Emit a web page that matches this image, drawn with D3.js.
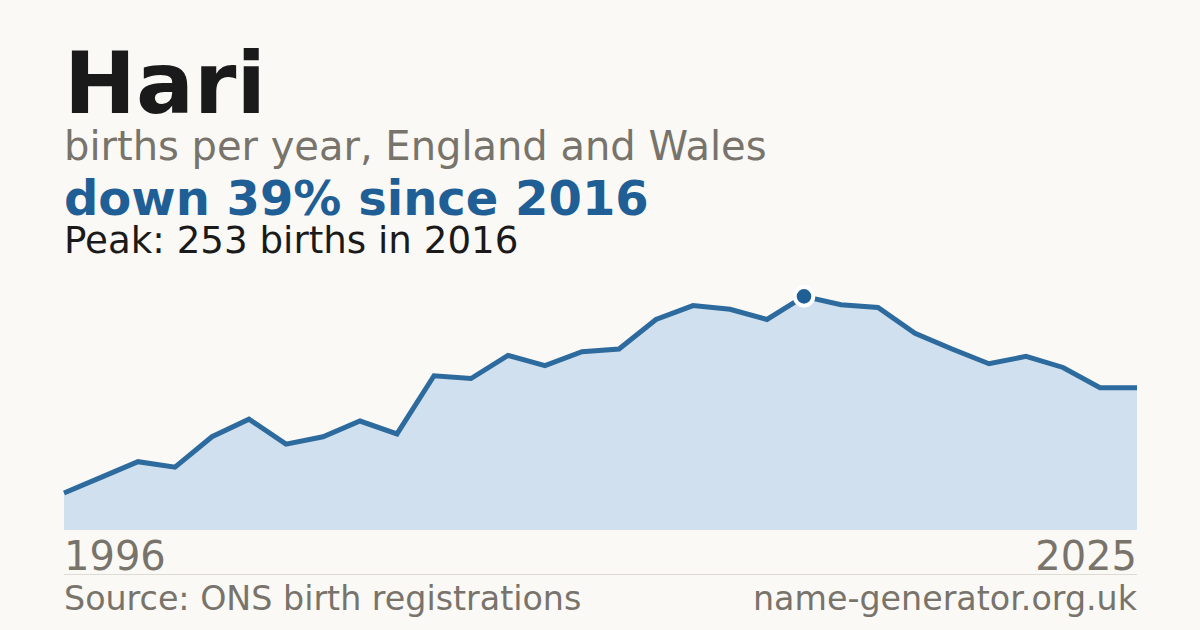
<!doctype html>
<meta charset="utf-8">
<title>Hari</title>
<style>
    html, body {
        margin: 0;
        background-color: #faf9f5;
    }

    svg {
        display: block;
        font-family: "DejaVu Sans", Verdana, sans-serif;
    }
</style>
<svg width=1200 height=630 viewBox="0 0 1200 630"></svg>
<script src=https://d3js.org/d3.v7.min.js></script>
<script>
    // births per year
    var years = [1996, 1997, 1998, 1999, 2000, 2001, 2002, 2003, 2004, 2005,
        2006, 2007, 2008, 2009, 2010, 2011, 2012, 2013, 2014, 2015,
        2016, 2017, 2018, 2019, 2020, 2021, 2022, 2023, 2024, 2025];
    var births = [40, 57, 74, 68, 101, 120, 93, 101, 118, 104,
        167, 164, 189, 178, 193, 196, 228, 243, 239, 228,
        253, 244, 241, 213, 196, 180, 188, 176, 154, 154];

    var title = 'Hari';
    var subtitle = 'births per year, England and Wales';
    var sourceText = 'Source: ONS birth registrations';
    var siteText = 'name-generator.org.uk';

    var svg = d3.select('svg');
    var margin = { left: 64, right: 63, top: 280, bottom: 100 };
    var width = 1200 - margin.left - margin.right;

    var data = years.map(function (y, i) {
        return { year: y, births: births[i] };
    });

    // peak and change since peak
    var peak = data.reduce(function (a, b) { return b.births > a.births ? b : a; });
    var last = data[data.length - 1];
    var change = Math.round((1 - last.births / peak.births) * 100);

    var x = d3.scaleLinear()
        .domain(d3.extent(years))
        .range([margin.left, margin.left + width]);
    var y = d3.scaleLinear()
        .domain([0, peak.births * 1.07])
        .range([530, margin.top]);

    // header texts
    svg.append('text')
        .attr('x', 64).attr('y', 113)
        .attr('font-size', 86).attr('font-weight', 'bold')
        .attr('fill', '#1a1a1a')
        .text(title);

    svg.append('text')
        .attr('x', 64).attr('y', 160)
        .attr('font-size', 40)
        .attr('fill', '#78736b')
        .text(subtitle);

    svg.append('text')
        .attr('x', 64).attr('y', 215)
        .attr('font-size', 48).attr('font-weight', 'bold')
        .attr('fill', '#1f5f96')
        .text('down ' + change + '% since ' + peak.year);

    svg.append('text')
        .attr('x', 64).attr('y', 253)
        .attr('font-size', 37.2)
        .attr('fill', '#1a1a1a')
        .text('Peak: ' + peak.births + ' births in ' + peak.year);

    // area + line
    var area = d3.area()
        .x(function (d) { return x(d.year); })
        .y0(y(0))
        .y1(function (d) { return y(d.births); });

    var line = d3.line()
        .x(function (d) { return x(d.year); })
        .y(function (d) { return y(d.births); });

    svg.append('path')
        .datum(data)
        .attr('d', area)
        .attr('fill', '#d0e0ef');

    svg.append('path')
        .datum(data)
        .attr('d', line)
        .attr('fill', 'none')
        .attr('stroke', '#2d6a9e')
        .attr('stroke-width', 5)
        .attr('stroke-linejoin', 'miter');

    // peak marker
    svg.append('circle')
        .attr('cx', x(peak.year))
        .attr('cy', y(peak.births))
        .attr('r', 9.3)
        .attr('fill', '#1f5f96')
        .attr('stroke', '#ffffff')
        .attr('stroke-width', 4);

    // first / last year labels
    svg.append('text')
        .attr('x', x(years[0])).attr('y', 570)
        .attr('font-size', 40)
        .attr('fill', '#78736b')
        .text(years[0]);

    svg.append('text')
        .attr('x', x(years[years.length - 1])).attr('y', 570)
        .attr('text-anchor', 'end')
        .attr('font-size', 40)
        .attr('fill', '#78736b')
        .text(years[years.length - 1]);

    // footer
    svg.append('line')
        .attr('x1', 64).attr('x2', 64 + width)
        .attr('y1', 574.5).attr('y2', 574.5)
        .attr('stroke', '#dedbd4')
        .attr('stroke-width', 1);

    svg.append('text')
        .attr('x', 64).attr('y', 610)
        .attr('font-size', 33.3)
        .attr('fill', '#78736b')
        .text(sourceText);

    svg.append('text')
        .attr('x', 64 + width).attr('y', 610)
        .attr('text-anchor', 'end')
        .attr('font-size', 33.3)
        .attr('fill', '#78736b')
        .text(siteText);
</script>
